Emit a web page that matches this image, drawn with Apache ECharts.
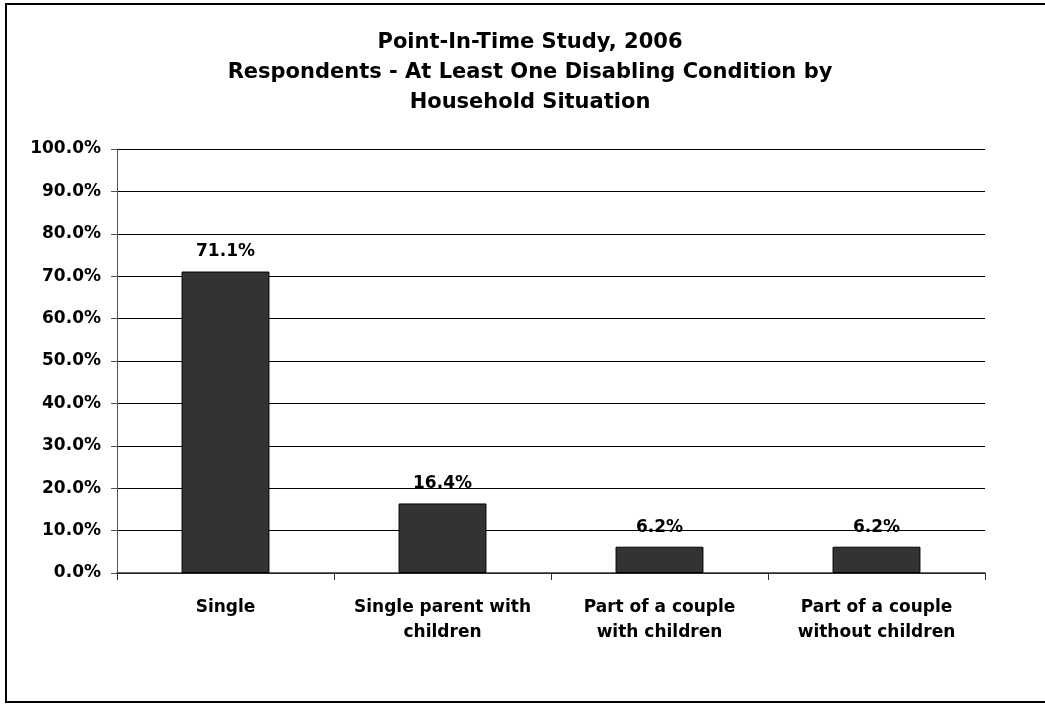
<!DOCTYPE html>
<html>
<head>
<meta charset="utf-8">
<script src="https://cdn.jsdelivr.net/npm/echarts@6/dist/echarts.min.js"></script>
<style>
  html, body { margin: 0; padding: 0; background: #fff; }
  #chart { width: 1045px; height: 704px; }
</style>
</head>
<body>
<div id="chart"></div>
<script>
// Household situation categories and share of respondents with a disabling condition
const categories = [
  'Single',
  'Single parent with\nchildren',
  'Part of a couple\nwith children',
  'Part of a couple\nwithout children'
];
const values = [71.1, 16.4, 6.2, 6.2];
const titleLines = [
  'Point-In-Time Study, 2006',
  'Respondents - At Least One Disabling Condition by',
  'Household Situation'
];

const FONT = '"DejaVu Sans", Arial, sans-serif';

const chart = echarts.init(document.getElementById('chart'), null, { renderer: 'canvas' });

chart.setOption({
  backgroundColor: '#ffffff',
  animation: false,
  title: {
    text: titleLines.join('\n'),
    left: 525,
    top: 23,
    textAlign: 'center',
    textStyle: {
      fontFamily: FONT,
      fontWeight: 'bold',
      fontSize: 21,
      lineHeight: 30,
      color: '#000'
    }
  },
  grid: {
    left: 117,
    right: 60,
    top: 149,
    bottom: 131,
    containLabel: false
  },
  xAxis: {
    type: 'category',
    data: categories,
    boundaryGap: true,
    axisLine: { lineStyle: { color: '#333', width: 1.5 } },
    axisTick: { show: true, length: 7, lineStyle: { color: '#333' } },
    axisLabel: {
      interval: 0,
      margin: 22,
      fontFamily: FONT,
      fontWeight: 'bold',
      fontSize: 17,
      lineHeight: 25,
      color: '#000',
      align: 'center'
    }
  },
  yAxis: {
    type: 'value',
    min: 0,
    max: 100,
    interval: 10,
    axisLine: { show: true, lineStyle: { color: '#555', width: 1 } },
    axisTick: { show: true, length: 6, lineStyle: { color: '#555' } },
    splitLine: { show: true, lineStyle: { color: '#000', width: 1 } },
    axisLabel: {
      margin: 16,
      fontFamily: FONT,
      fontWeight: 'bold',
      fontSize: 17,
      color: '#000',
      formatter: v => v.toFixed(1) + '%'
    }
  },
  series: [{
    type: 'bar',
    data: values,
    barWidth: '40.5%',
    itemStyle: { color: '#333333', borderColor: '#000', borderWidth: 1 },
    label: {
      show: true,
      position: 'top',
      distance: 11,
      fontFamily: FONT,
      fontWeight: 'bold',
      fontSize: 17,
      color: '#000',
      formatter: p => p.value.toFixed(1) + '%'
    }
  }],
  graphic: [{
    type: 'rect',
    shape: { x: 6, y: 4, width: 1060, height: 698 },
    style: { fill: 'none', stroke: '#000', lineWidth: 2 },
    silent: true,
    z: 100
  }]
});
</script>
</body>
</html>
